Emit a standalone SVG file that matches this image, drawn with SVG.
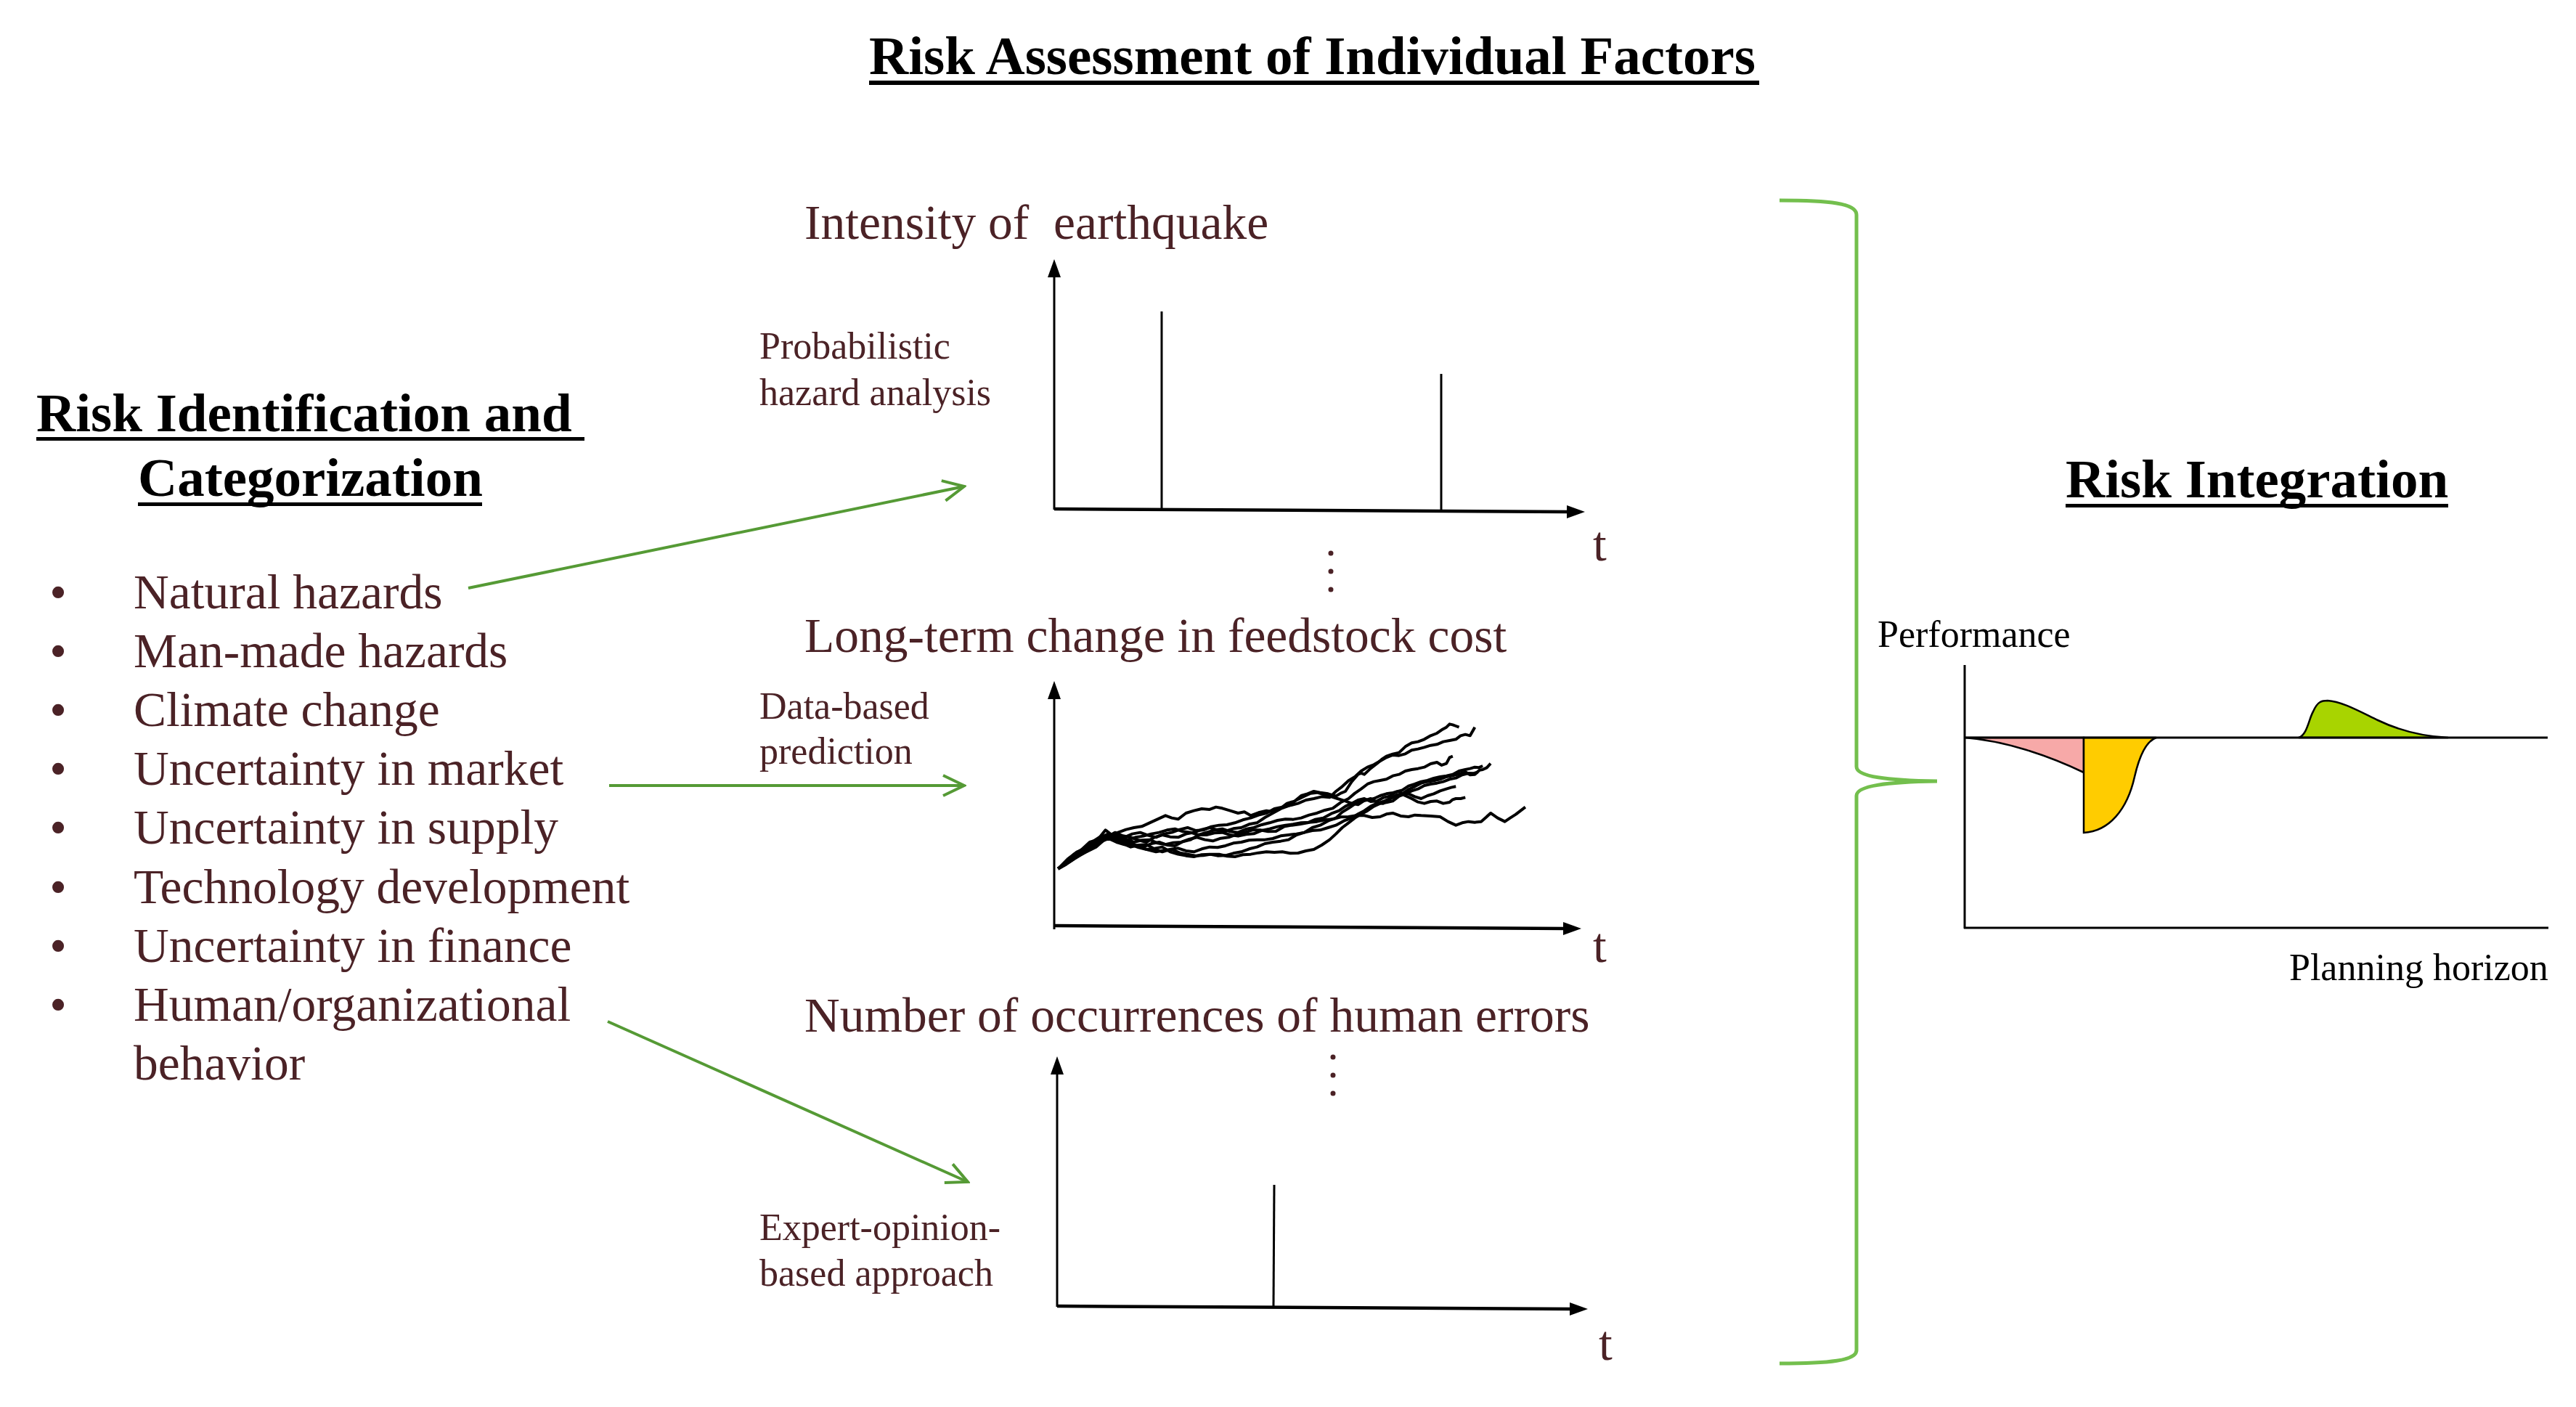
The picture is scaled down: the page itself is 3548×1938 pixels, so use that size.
<svg xmlns="http://www.w3.org/2000/svg" width="3548" height="1938" viewBox="0 0 3548 1938">
<style>
text{font-family:"Liberation Serif","Times New Roman",serif;}
.h{font-size:75px;font-weight:bold;fill:#000;}
.item{font-size:67.5px;fill:#4B2226;}
.ct{font-size:67.5px;fill:#4B2226;}
.sub{font-size:52px;fill:#4B2226;}
.blk{font-size:52px;fill:#000;}
.ax{stroke:#000;fill:none;}
.spike{stroke:#000;stroke-width:3;fill:none;}
.walk{stroke:#000;stroke-width:4;fill:none;stroke-linejoin:round;}
.conn{stroke:#559A35;stroke-width:4;fill:none;}
.brace{stroke:#73BF4D;stroke-width:5;fill:none;}
.dot{fill:#4B2226;}
.ul{fill:#000;}
.ra{stroke:#000;stroke-width:3;fill:none;}
.area{stroke:#000;stroke-width:2.5;}
</style>
<defs>
<marker id="axhead" markerUnits="userSpaceOnUse" markerWidth="26" markerHeight="20" viewBox="0 0 26 20" refX="4" refY="10" orient="auto">
<path d="M0,1 L25,10 L0,19 Z" fill="#000"/>
</marker>
<marker id="garrow" markerUnits="userSpaceOnUse" markerWidth="34" markerHeight="32" viewBox="0 0 34 32" refX="31" refY="16" orient="auto">
<path d="M2,2 L31,16 L2,30" fill="none" stroke="#559A35" stroke-width="4"/>
</marker>
</defs>
<rect width="3548" height="1938" fill="#fff"/>

<g id="title">
<text class="h" x="1197" y="102">Risk Assessment of Individual Factors</text>
<rect class="ul" x="1197" y="111" width="1226" height="6"/>
</g>

<g id="risk-identification">
<text class="h" x="50" y="594">Risk Identification and </text>
<rect class="ul" x="50" y="602" width="755" height="5"/>
<text class="h" x="190" y="683">Categorization</text>
<rect class="ul" x="190" y="692" width="474" height="5"/>
<g class="item">
<text x="80" y="838" text-anchor="middle">•</text><text x="184" y="838">Natural hazards</text>
<text x="80" y="919" text-anchor="middle">•</text><text x="184" y="919">Man-made hazards</text>
<text x="80" y="1000" text-anchor="middle">•</text><text x="184" y="1000">Climate change</text>
<text x="80" y="1081" text-anchor="middle">•</text><text x="184" y="1081">Uncertainty in market</text>
<text x="80" y="1162" text-anchor="middle">•</text><text x="184" y="1162">Uncertainty in supply</text>
<text x="80" y="1244" text-anchor="middle">•</text><text x="184" y="1244">Technology development</text>
<text x="80" y="1325" text-anchor="middle">•</text><text x="184" y="1325">Uncertainty in finance</text>
<text x="80" y="1406" text-anchor="middle">•</text><text x="184" y="1406">Human/organizational</text>
<text x="184" y="1487">behavior</text>
</g>
</g>

<g id="chart-earthquake">
<text class="ct" x="1108" y="329" xml:space="preserve">Intensity of  earthquake</text>
<text class="sub" x="1046" y="494">Probabilistic</text>
<text class="sub" x="1046" y="558">hazard analysis</text>
<line class="ax" stroke-width="3" x1="1452" y1="702" x2="1452" y2="378" marker-end="url(#axhead)"/>
<line class="ax" stroke-width="4.5" x1="1452" y1="701" x2="2162" y2="705" marker-end="url(#axhead)"/>
<line class="spike" x1="1600" y1="429" x2="1600" y2="702"/>
<line class="spike" x1="1985" y1="515" x2="1985" y2="706"/>
<text class="ct" x="2194" y="772">t</text>
<circle class="dot" cx="1833" cy="762" r="3.5"/>
<circle class="dot" cx="1833" cy="787" r="3.5"/>
<circle class="dot" cx="1833" cy="812" r="3.5"/>
</g>

<g id="chart-feedstock">
<text class="ct" x="1108" y="898">Long-term change in feedstock cost</text>
<text class="sub" x="1046" y="990">Data-based</text>
<text class="sub" x="1046" y="1052">prediction</text>
<line class="ax" stroke-width="3" x1="1452" y1="1280" x2="1452" y2="959" marker-end="url(#axhead)"/>
<line class="ax" stroke-width="4.5" x1="1452" y1="1275" x2="2157" y2="1279" marker-end="url(#axhead)"/>
<text class="ct" x="2194" y="1325">t</text>
<g transform="translate(1440,960) scale(0.4348,0.3333)">
<polyline class="walk" vector-effect="non-scaling-stroke" points="40,710 65,690 90,650 115,630 140,600 165,590 190,550 210,570 230,560 255,548 280,540 305,535 330,520 355,505 380,490 400,500 420,505 445,480 470,470 495,462 520,465 540,455 560,460 585,470 610,480 630,475 650,490 675,478 700,470 720,475 740,465 765,440 790,430 810,408 830,400 850,390 870,395 895,400 920,410 935,398 950,390 970,350 990,320 1000,315 1010,320 1030,295 1050,275 1065,258 1080,245 1100,236 1120,230 1140,205 1160,190 1180,185 1200,175 1220,160 1240,150 1255,136 1270,125 1280,112 1290,115 1300,120 1310,125"/>
<polyline class="walk" vector-effect="non-scaling-stroke" points="40,710 70,670 100,640 125,628 150,610 175,580 200,565 225,578 250,580 275,566 300,560 325,572 350,580 375,566 400,560 425,548 450,540 475,552 500,550 525,536 550,530 575,528 600,520 625,508 650,500 675,488 700,480 725,462 750,455 775,448 800,440 825,426 850,420 875,412 900,415 920,390 940,370 960,346 980,330 1000,306 1020,290 1040,280 1060,265 1080,250 1100,240 1120,242 1140,235 1160,220 1180,215 1200,208 1220,200 1240,196 1260,185 1280,180 1300,175 1315,160 1330,155 1345,160 1360,125"/>
<polyline class="walk" vector-effect="non-scaling-stroke" points="40,710 70,680 100,660 130,625 160,600 185,580 210,570 235,590 260,600 285,612 310,620 335,606 360,600 385,612 410,615 435,598 460,590 485,570 510,560 535,550 560,545 585,556 610,560 635,546 660,540 685,528 710,520 735,510 760,505 785,506 810,500 835,488 860,480 885,468 910,460 935,436 960,420 980,398 1000,380 1020,360 1040,350 1060,345 1080,340 1100,326 1120,320 1140,306 1160,300 1180,296 1200,290 1220,276 1240,270 1255,282 1270,275 1280,250 1290,245"/>
<polyline class="walk" vector-effect="non-scaling-stroke" points="40,710 75,672 110,640 140,606 170,580 195,582 220,590 245,606 270,620 295,612 320,610 345,628 370,640 395,630 420,625 445,636 470,640 495,628 520,620 545,622 570,615 595,604 620,600 645,592 670,590 695,590 720,585 745,574 770,570 795,566 820,560 845,552 870,550 895,540 920,530 945,512 970,500 990,484 1010,470 1030,452 1050,440 1070,432 1090,420 1110,406 1130,400 1150,382 1170,370 1190,356 1210,350 1230,346 1250,340 1270,330 1290,325 1310,318 1330,310 1345,322 1360,320 1375,302 1385,300 1398,292 1410,275"/>
<polyline class="walk" vector-effect="non-scaling-stroke" points="40,710 80,668 120,630 150,602 180,590 205,575 230,570 255,588 280,600 305,592 330,590 355,604 380,610 405,602 430,600 455,588 480,580 505,590 530,595 555,584 580,580 605,568 630,560 655,550 680,550 705,556 730,555 755,536 780,530 805,526 830,520 855,506 880,500 905,482 930,470 950,452 970,440 990,426 1010,420 1030,432 1050,430 1070,416 1090,410 1110,392 1130,385 1150,368 1170,360 1190,350 1210,345 1230,336 1250,330 1270,326 1290,320 1310,306 1330,300 1345,296 1360,290 1372,292 1385,285"/>
<polyline class="walk" vector-effect="non-scaling-stroke" points="40,710 75,680 110,650 140,622 170,600 195,586 220,580 245,598 270,610 295,622 320,630 345,626 370,620 395,640 420,650 445,656 470,660 495,652 520,650 545,656 570,655 595,646 620,640 645,628 670,620 695,606 720,600 745,596 770,590 795,570 820,560 845,540 870,530 895,512 920,500 940,476 960,460 980,442 1000,430 1020,426 1040,420 1060,408 1080,400 1100,396 1120,390 1140,408 1160,420 1180,434 1200,440 1220,432 1240,430 1260,440 1280,435 1290,424 1300,420 1315,420 1330,415"/>
<polyline class="walk" vector-effect="non-scaling-stroke" points="40,710 70,686 100,660 130,640 160,620 185,592 210,575 235,586 260,590 285,580 310,575 335,566 360,560 385,550 410,545 435,556 460,560 485,570 510,570 535,562 560,560 585,570 610,575 635,568 660,565 685,552 710,545 735,536 760,530 785,526 810,520 835,518 860,515 885,508 910,505 935,496 960,495 985,490 1010,490 1035,498 1060,495 1080,484 1100,480 1125,492 1150,495 1170,488 1190,490 1220,492 1250,495 1275,515 1300,530 1320,520 1340,515 1360,518 1380,515 1395,498 1410,480 1432,500 1455,515 1472,500 1490,485 1505,470 1520,455"/>
<polyline class="walk" vector-effect="non-scaling-stroke" points="40,710 65,692 90,670 120,646 150,620 175,598 200,585 225,600 250,610 275,612 300,620 325,632 350,640 375,634 400,630 425,644 450,650 475,656 500,655 525,650 550,650 575,658 600,660 625,652 650,650 675,644 700,640 725,642 750,640 775,646 800,645 825,636 850,630 875,612 900,590 920,566 940,540 960,520 980,500 1000,484 1020,470 1040,452 1060,440 1080,436 1100,430 1120,410 1140,400 1160,388 1180,380 1200,366 1220,360 1240,356 1260,350 1280,340 1300,335 1320,322 1340,315 1355,316 1370,310"/>
<polyline class="walk" vector-effect="non-scaling-stroke" points="40,710 70,676 100,650 130,632 160,610 190,582 220,560 245,574 270,580 295,592 320,600 345,580 370,570 395,578 420,580 445,566 470,560 495,548 520,540 545,550 570,555 595,544 620,540 645,526 670,520 695,498 720,480 745,462 770,450 795,426 820,410 840,398 860,395 880,402 900,410 925,420 950,430 970,440 990,445 1010,428 1030,420 1050,436 1070,440 1090,422 1110,410 1130,404 1150,400 1170,412 1190,420 1210,408 1230,400 1250,388 1270,380 1285,374 1300,370"/>
</g>
</g>

<g id="chart-human-errors">
<text class="ct" x="1108" y="1421">Number of occurrences of human errors</text>
<circle class="dot" cx="1836" cy="1456" r="3.5"/>
<circle class="dot" cx="1836" cy="1481" r="3.5"/>
<circle class="dot" cx="1836" cy="1506" r="3.5"/>
<text class="sub" x="1046" y="1708">Expert-opinion-</text>
<text class="sub" x="1046" y="1771">based approach</text>
<line class="ax" stroke-width="3" x1="1456" y1="1800" x2="1456" y2="1476" marker-end="url(#axhead)"/>
<line class="ax" stroke-width="4.5" x1="1456" y1="1799" x2="2166" y2="1803" marker-end="url(#axhead)"/>
<line class="spike" x1="1755" y1="1632" x2="1754" y2="1800"/>
<text class="ct" x="2202" y="1873">t</text>
</g>

<g id="risk-integration">
<text class="h" x="2845" y="685">Risk Integration</text>
<rect class="ul" x="2845" y="694" width="527" height="5"/>
<text class="blk" x="2586" y="891">Performance</text>
<path class="area" d="M2706,1016 C2760,1020 2820,1040 2870,1064 L2870,1016 Z" fill="#F7A9A8"/>
<path class="area" d="M2870,1016 L2870,1147 C2905,1145 2930,1115 2940,1070 C2948,1035 2958,1020 2970,1016 Z" fill="#FFCC00"/>
<path class="area" d="M3166,1016 C3178,1012 3180,990 3186,980 C3192,966 3198,965 3206,965 C3225,966 3250,980 3275,992 C3300,1004 3330,1014 3372,1016 Z" fill="#A8D400"/>
<line class="ra" x1="2706" y1="1016" x2="3509" y2="1016"/>
<line class="ra" x1="2706" y1="916" x2="2706" y2="1279"/>
<line class="ra" x1="2705" y1="1278" x2="3510" y2="1278"/>
<text class="blk" x="3153" y="1350">Planning horizon</text>
</g>

<g id="connectors">
<line class="conn" x1="645" y1="810" x2="1328" y2="670" marker-end="url(#garrow)"/>
<line class="conn" x1="839" y1="1082" x2="1328" y2="1082" marker-end="url(#garrow)"/>
<line class="conn" x1="837" y1="1407" x2="1333" y2="1628" marker-end="url(#garrow)"/>
<path class="brace" d="M2451,276 C2520,276 2557,280 2557,296 L2557,1056 C2557,1070 2600,1075 2668,1076 M2668,1076 C2600,1077 2557,1082 2557,1096 L2557,1860 C2557,1874 2520,1878 2451,1878"/>
</g>
</svg>
